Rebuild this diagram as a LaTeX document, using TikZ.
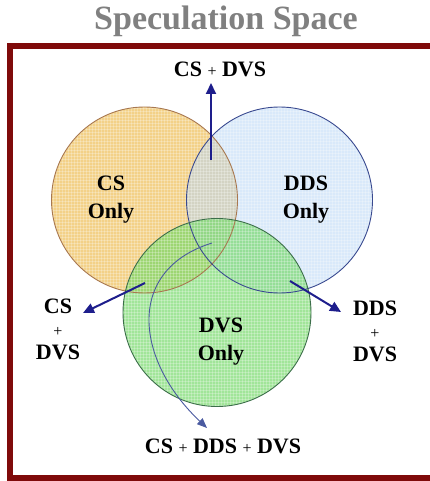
\documentclass[tikz,border=0pt]{standalone}
\usepackage{fontspec}
\setmainfont{Liberation Serif}
\usetikzlibrary{arrows.meta}
\definecolor{framec}{HTML}{7F0A0A}
\definecolor{csfill}{HTML}{EDBB50}
\definecolor{csline}{HTML}{A87850}
\definecolor{ddsfill}{HTML}{B9D7F5}
\definecolor{ddsline}{HTML}{3A4A90}
\definecolor{dvsfill}{HTML}{75D969}
\definecolor{dvsline}{HTML}{3C6E4A}
\definecolor{arrowc}{HTML}{1E1E8C}
\definecolor{curvec}{HTML}{4A5AA0}
\definecolor{titlec}{HTML}{808080}
\begin{document}
\begin{tikzpicture}[x=1pt,y=-1pt,
  lbl/.style={font=\fontsize{22}{28}\selectfont\bfseries, align=center, inner sep=0pt, text=black},
  stack/.style={font=\fontsize{22}{23}\selectfont\bfseries, align=center, inner sep=0pt, text=black},
  setcircle/.style={line width=0.9pt},
  bigarrow/.style={draw=arrowc, line width=2pt, -{Triangle[length=11pt,width=10pt]}},
  thinarrow/.style={draw=curvec, line width=0.9pt, -{Triangle[length=10pt,width=8pt]}, color=curvec},
  gridlines/.style={white, opacity=0.25, line width=0.7pt}
]
\useasboundingbox (0,0) rectangle (430,481);
\clip (0,0) rectangle (430,481);

% title
\node[anchor=base, text=titlec, inner sep=0pt, font=\fontsize{34}{34}\selectfont\bfseries] (title) at (226,30) {Speculation Space};

% frame
\draw[framec, line width=6pt] (9.7,46) rectangle (445,478);

% circle fills
\fill[csfill, fill opacity=0.68] (144.5,200) circle[radius=93];
\fill[ddsfill, fill opacity=0.55] (279.5,200) circle[radius=93];
\fill[dvsfill, fill opacity=0.68] (217,312.5) circle[radius=94];

% grid texture
\begin{scope}
  \clip (144.5,200) circle[radius=93] (279.5,200) circle[radius=93] (217,312.5) circle[radius=94];
  \foreach \gx in {50,53,...,380} \draw[gridlines] (\gx,100) -- (\gx,410);
  \foreach \gy in {105,108,...,410} \draw[gridlines] (50,\gy) -- (380,\gy);
\end{scope}

% circle outlines
\node[setcircle, draw=csline, circle, minimum size=186pt, inner sep=0pt] (cs) at (144.5,200) {};
\node[setcircle, draw=ddsline, circle, minimum size=186pt, inner sep=0pt] (dds) at (279.5,200) {};
\node[setcircle, draw=dvsline, circle, minimum size=188pt, inner sep=0pt] (dvs) at (217,312.5) {};

% region labels
\node[lbl] (csonly) at (111,200) {CS\\Only};
\node[lbl] (ddsonly) at (306,200) {DDS\\Only};
\node[lbl] (dvsonly) at (221,342) {DVS\\Only};

% outer labels
\node[lbl] (topl) at (220,69) {CS {\fontsize{16}{16}\selectfont\mdseries +} DVS};
\node[stack] (leftl) at (58,329) {CS\\{\fontsize{16}{16}\selectfont\mdseries +}\\DVS};
\node[stack] (rightl) at (375,331.5) {DDS\\{\fontsize{16}{16}\selectfont\mdseries +}\\DVS};
\node[lbl] (botl) at (223,446) {CS {\fontsize{16}{16}\selectfont\mdseries +} DDS {\fontsize{16}{16}\selectfont\mdseries +} DVS};

% arrow anchors
\coordinate (s1) at (211,160);
\coordinate (e1) at (211,83);
\coordinate (s2) at (145,283);
\coordinate (e2) at (83,313);
\coordinate (s3) at (290,281);
\coordinate (e3) at (341,312);
\coordinate (s4) at (212,243);
\coordinate (e4) at (207,428);

\draw[bigarrow] (s1) -- (e1);
\draw[bigarrow] (s2) -- (e2);
\draw[bigarrow] (s3) -- (e3);
\draw[thinarrow] (s4) .. controls (125,270) and (135,360) .. (e4);
\end{tikzpicture}
\end{document}
